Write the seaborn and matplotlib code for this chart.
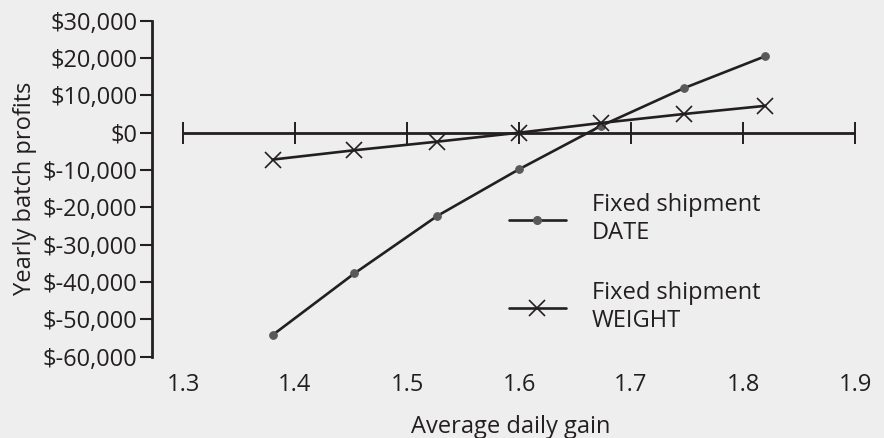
"""Yearly batch profits vs. average daily gain, two shipment strategies."""

import numpy as np
import matplotlib.pyplot as plt
import seaborn as sns
from matplotlib.lines import Line2D
from matplotlib.ticker import FuncFormatter

# data
daily_gain = [1.38, 1.453, 1.527, 1.6, 1.673, 1.747, 1.82]
profit_fixed_date = [-54200, -37700, -22300, -9800, 1800, 11900, 20500]
profit_fixed_weight = [-7200, -4700, -2400, 0, 2600, 5000, 7200]
x_ticks = [1.3, 1.4, 1.5, 1.6, 1.7, 1.8, 1.9]
y_ticks = list(range(-60000, 30001, 10000))
series_labels = ['Fixed shipment\nDATE', 'Fixed shipment\nWEIGHT']

BG = '#eeeeee'
INK = '#231f20'
DOT = '#58595b'
FS = 17

sns.set_theme(style='white')
plt.rcParams['font.family'] = ['Open Sans', 'DejaVu Sans']
plt.rcParams['text.color'] = INK
plt.rcParams['axes.labelcolor'] = INK
plt.rcParams['xtick.color'] = INK
plt.rcParams['ytick.color'] = INK

fig = plt.figure(figsize=(8.84, 4.38), dpi=100, facecolor=BG)
ax = fig.add_axes([152 / 884, 1 - 356.7 / 438, (870 - 152) / 884, (356.7 - 20.7) / 438])
ax.set_facecolor(BG)

# zero line with its own tick marks
ax.hlines(0, x_ticks[0], x_ticks[-1], color=INK, lw=2.0, zorder=1)
ax.plot(x_ticks, np.zeros(len(x_ticks)), ls='none', marker='|', ms=16,
        mew=1.4, color=INK, zorder=1)

sns.lineplot(x=daily_gain, y=profit_fixed_date, ax=ax, color=INK, lw=1.9,
             marker='o', ms=5.5, markerfacecolor=DOT, markeredgecolor=DOT,
             zorder=3)
sns.lineplot(x=daily_gain, y=profit_fixed_weight, ax=ax, color=INK, lw=1.9,
             marker='x', ms=11, mew=1.2, markeredgecolor=INK, zorder=3)

ax.set_xlim(1.3 - 31 / 1120, 1.9 + 15 / 1120)
ax.set_ylim(-60000, 30000)
ax.set_xticks(x_ticks)
ax.set_xticklabels([f'{v:.1f}' for v in x_ticks])
ax.set_yticks(y_ticks)
ax.yaxis.set_major_formatter(FuncFormatter(lambda v, _: f'${int(v):,}'))

for side in ['top', 'right', 'bottom']:
    ax.spines[side].set_visible(False)
ax.spines['left'].set_color(INK)
ax.spines['left'].set_linewidth(2.0)

ax.tick_params(axis='y', direction='out', length=8.5, width=1.5,
               pad=2, labelsize=FS, left=True)
ax.tick_params(axis='x', length=0, pad=12, labelsize=FS)

ax.set_xlabel('Average daily gain', fontsize=FS, labelpad=13)
ax.set_ylabel('Yearly batch profits', fontsize=FS, labelpad=4)

handles = [
    Line2D([], [], color=INK, lw=1.9, marker='o', ms=5.5,
           markerfacecolor=DOT, markeredgecolor=DOT),
    Line2D([], [], color=INK, lw=1.9, marker='x', ms=11, mew=1.2,
           markeredgecolor=INK),
]
ax.legend(handles, series_labels, loc='center left',
          bbox_to_anchor=(509 / 884, 1 - 263 / 438), bbox_transform=fig.transFigure,
          frameon=False, fontsize=FS, handlelength=2.4, handletextpad=1.1,
          labelspacing=1.55, borderpad=0, borderaxespad=0, numpoints=1)

fig.savefig('out.png', dpi=100, facecolor=BG)
